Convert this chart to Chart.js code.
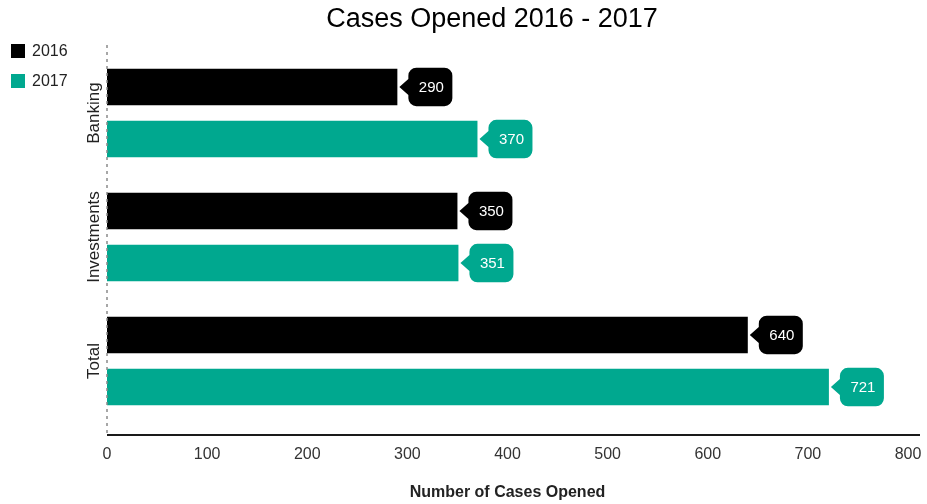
<!DOCTYPE html>
<html>
<head>
<meta charset="utf-8">
<title>Cases Opened 2016 - 2017</title>
<script src="https://cdn.jsdelivr.net/npm/chart.js@4"></script>
<style>
    html, body { margin: 0; padding: 0; background: #fff; }
    #chart { display: block; }
</style>
</head>
<body>
<canvas id="chart" width="927" height="504"></canvas>
<script>
// Chart data
const chartTitle = 'Cases Opened 2016 - 2017';
const categories = ['Banking', 'Investments', 'Total'];
const seriesLabels = ['2016', '2017'];
const cases2016 = [290, 350, 640];
const cases2017 = [370, 351, 721];
const xMin = 0;
const xMax = 800;
const xStep = 100;

const seriesColors = ['#000000', '#00a88f'];
const fontFamily = '"Liberation Sans", Arial, Helvetica, sans-serif';

// Title, drawn by hand so it can sit where the original had it
const titleText = {
    id: 'titleText',
    afterDraw(chart) {
        const { ctx } = chart;
        ctx.save();
        ctx.font = '27px ' + fontFamily;
        ctx.fillStyle = '#000';
        ctx.textAlign = 'center';
        ctx.textBaseline = 'middle';
        ctx.fillText(chartTitle, 492, 20);
        ctx.restore();
    }
};

// Axis lines: dashed y axis, solid x axis a bit below the bars
const axisLines = {
    id: 'axisLines',
    afterDraw(chart) {
        const { ctx, chartArea } = chart;
        const axisY = chartArea.bottom + 12;
        ctx.save();
        ctx.strokeStyle = '#8a8a8a';
        ctx.lineWidth = 1.5;
        ctx.setLineDash([3, 4]);
        ctx.beginPath();
        ctx.moveTo(chartArea.left, chartArea.top - 6);
        ctx.lineTo(chartArea.left, axisY);
        ctx.stroke();
        ctx.setLineDash([]);
        ctx.strokeStyle = '#1a1a1a';
        ctx.lineWidth = 2;
        ctx.beginPath();
        ctx.moveTo(chartArea.left, axisY);
        ctx.lineTo(chartArea.right + 12, axisY);
        ctx.stroke();
        ctx.restore();
    }
};

// Rotated category labels on the left
const categoryLabels = {
    id: 'categoryLabels',
    afterDraw(chart) {
        const { ctx } = chart;
        const yScale = chart.scales.y;
        ctx.save();
        ctx.font = '17px ' + fontFamily;
        ctx.fillStyle = '#222';
        ctx.textAlign = 'center';
        ctx.textBaseline = 'middle';
        categories.forEach((label, i) => {
            ctx.save();
            ctx.translate(chart.chartArea.left - 13, yScale.getPixelForValue(i));
            ctx.rotate(-Math.PI / 2);
            ctx.fillText(label, 0, 0);
            ctx.restore();
        });
        ctx.restore();
    }
};

// Callout boxes with the value next to each bar
const valueCallouts = {
    id: 'valueCallouts',
    afterDatasetsDraw(chart) {
        const { ctx } = chart;
        ctx.save();
        ctx.font = '15px ' + fontFamily;
        ctx.textAlign = 'center';
        ctx.textBaseline = 'middle';
        chart.data.datasets.forEach((dataset, di) => {
            const meta = chart.getDatasetMeta(di);
            meta.data.forEach((bar, i) => {
                const tip = bar.x + 2;
                const left = bar.x + 11;
                const w = 44;
                const h = bar.height + 2;
                const top = bar.y - h / 2;
                const r = 8;
                ctx.fillStyle = dataset.backgroundColor;
                ctx.beginPath();
                ctx.moveTo(left + r, top);
                ctx.lineTo(left + w - r, top);
                ctx.arcTo(left + w, top, left + w, top + r, r);
                ctx.lineTo(left + w, top + h - r);
                ctx.arcTo(left + w, top + h, left + w - r, top + h, r);
                ctx.lineTo(left + r, top + h);
                ctx.arcTo(left, top + h, left, top + h - r, r);
                ctx.lineTo(left, bar.y + 8);
                ctx.lineTo(tip, bar.y);
                ctx.lineTo(left, bar.y - 8);
                ctx.lineTo(left, top + r);
                ctx.arcTo(left, top, left + r, top, r);
                ctx.closePath();
                ctx.fill();
                ctx.fillStyle = '#ffffff';
                ctx.fillText(String(dataset.data[i]), left + w / 2 + 1, bar.y + 1);
            });
        });
        ctx.restore();
    }
};

// Vertical legend in the top-left corner
const cornerLegend = {
    id: 'cornerLegend',
    afterDraw(chart) {
        const { ctx } = chart;
        ctx.save();
        ctx.font = '16px ' + fontFamily;
        ctx.textAlign = 'left';
        ctx.textBaseline = 'middle';
        chart.data.datasets.forEach((dataset, i) => {
            const cy = 51 + i * 30;
            ctx.fillStyle = dataset.backgroundColor;
            ctx.fillRect(11, cy - 7, 14, 14);
            ctx.fillStyle = '#222';
            ctx.fillText(dataset.label, 32, cy + 1);
        });
        ctx.restore();
    }
};

new Chart(document.getElementById('chart'), {
    type: 'bar',
    data: {
        labels: categories,
        datasets: [
            {
                label: seriesLabels[0],
                data: cases2016,
                backgroundColor: seriesColors[0],
                categoryPercentage: 0.84,
                barPercentage: 0.70
            },
            {
                label: seriesLabels[1],
                data: cases2017,
                backgroundColor: seriesColors[1],
                categoryPercentage: 0.84,
                barPercentage: 0.70
            }
        ]
    },
    options: {
        indexAxis: 'y',
        responsive: false,
        animation: false,
        devicePixelRatio: 1,
        layout: {
            padding: { left: 0, right: 19, top: 51, bottom: 0 }
        },
        scales: {
            x: {
                min: xMin,
                max: xMax,
                grid: { display: false, drawTicks: false },
                border: { display: false },
                ticks: {
                    stepSize: xStep,
                    padding: 22,
                    color: '#333',
                    font: { family: fontFamily, size: 16 }
                },
                title: {
                    display: true,
                    text: 'Number of Cases Opened',
                    color: '#222',
                    font: { family: fontFamily, size: 16, weight: 'bold' },
                    padding: { top: 0, bottom: 2 }
                },
                afterFit(scale) {
                    scale.height = 81;
                    scale.paddingLeft = 0;
                    scale.paddingRight = 0;
                }
            },
            y: {
                grid: { display: false, drawTicks: false },
                border: { display: false },
                ticks: { display: false },
                afterFit(scale) { scale.width = 107; }
            }
        },
        plugins: {
            legend: { display: false },
            tooltip: { enabled: false },
            title: { display: false }
        }
    },
    plugins: [titleText, axisLines, categoryLabels, valueCallouts, cornerLegend]
});
</script>
</body>
</html>
